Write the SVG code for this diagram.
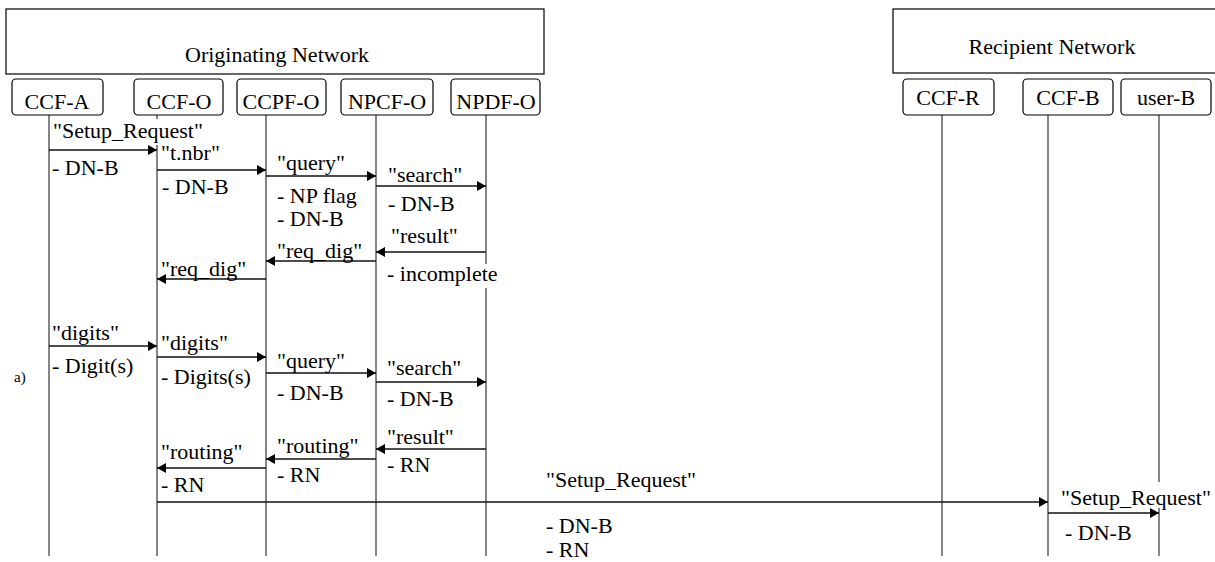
<svg xmlns="http://www.w3.org/2000/svg" width="1215" height="562" viewBox="0 0 1215 562" font-family="'Liberation Serif', 'Times New Roman', Times, serif">
<style>
  text { font-family: 'Liberation Serif', 'Times New Roman', Times, serif; font-size: 22px; fill: #000; }
  .hdr { text-anchor: middle; }
  .nm { text-anchor: middle; }
  .box { fill: #fff; stroke: #000; stroke-width: 1.2; }
  .life { stroke: #444; stroke-width: 1.3; fill: none; }
  .msg { stroke: #111; stroke-width: 1.4; fill: none; marker-end: url(#ah); }
  .bg { fill: #fff; stroke: none; }
  .small { font-size: 15px; }
</style>
<defs>
  <marker id="ah" viewBox="0 0 9 10" refX="9" refY="5" markerWidth="9" markerHeight="10" markerUnits="userSpaceOnUse" orient="auto">
    <path d="M0,0 L9,5 L0,10 z" fill="#000"/>
  </marker>
</defs>
<rect width="1215" height="562" fill="#fff"/>

<g id="originating-network">
  <rect class="box" x="6" y="9" width="538" height="65"/>
  <text class="hdr" x="277" y="62">Originating Network</text>
</g>
<g id="recipient-network">
  <rect class="box" x="893" y="9" width="330" height="64"/>
  <text class="hdr" x="1052" y="54">Recipient Network</text>
</g>

<g id="lifelines">
  <line class="life" x1="49" y1="115" x2="49" y2="556"/>
  <line class="life" x1="157" y1="115" x2="157" y2="556"/>
  <line class="life" x1="266" y1="115" x2="266" y2="556"/>
  <line class="life" x1="376" y1="115" x2="376" y2="556"/>
  <line class="life" x1="486" y1="115" x2="486" y2="556"/>
  <line class="life" x1="942" y1="115" x2="942" y2="556"/>
  <line class="life" x1="1048" y1="115" x2="1048" y2="556"/>
  <line class="life" x1="1159" y1="115" x2="1159" y2="556"/>
</g>

<g id="node-ccf-a">
  <rect class="box" x="12" y="79" width="91" height="36" rx="4"/>
  <text class="nm" x="57" y="109">CCF-A</text>
</g>
<g id="node-ccf-o">
  <rect class="box" x="134" y="79" width="89" height="36" rx="4"/>
  <text class="nm" x="179" y="109">CCF-O</text>
</g>
<g id="node-ccpf-o">
  <rect class="box" x="237" y="79" width="89" height="36" rx="4"/>
  <text class="nm" x="281" y="109">CCPF-O</text>
</g>
<g id="node-npcf-o">
  <rect class="box" x="341" y="79" width="92" height="36" rx="4"/>
  <text class="nm" x="387" y="109">NPCF-O</text>
</g>
<g id="node-npdf-o">
  <rect class="box" x="451" y="79" width="89" height="36" rx="4"/>
  <text class="nm" x="496" y="109">NPDF-O</text>
</g>
<g id="node-ccf-r">
  <rect class="box" x="903" y="79" width="91" height="36" rx="4"/>
  <text class="nm" x="948" y="105">CCF-R</text>
</g>
<g id="node-ccf-b">
  <rect class="box" x="1023" y="79" width="90" height="36" rx="4"/>
  <text class="nm" x="1068" y="105">CCF-B</text>
</g>
<g id="node-user-b">
  <rect class="box" x="1121" y="79" width="90" height="36" rx="4"/>
  <text class="nm" x="1166" y="105">user-B</text>
</g>

<g id="connectors">
  <line class="msg" x1="49" y1="150" x2="157" y2="150"/>
  <line class="msg" x1="157" y1="170" x2="266" y2="170"/>
  <line class="msg" x1="266" y1="176" x2="376" y2="176"/>
  <line class="msg" x1="376" y1="186" x2="486" y2="186"/>
  <line class="msg" x1="486" y1="252" x2="376" y2="252"/>
  <line class="msg" x1="376" y1="261" x2="266" y2="261"/>
  <line class="msg" x1="266" y1="279" x2="157" y2="279"/>
  <line class="msg" x1="49" y1="346" x2="157" y2="346"/>
  <line class="msg" x1="157" y1="357" x2="266" y2="357"/>
  <line class="msg" x1="266" y1="373" x2="376" y2="373"/>
  <line class="msg" x1="376" y1="382" x2="486" y2="382"/>
  <line class="msg" x1="486" y1="449" x2="376" y2="449"/>
  <line class="msg" x1="376" y1="459" x2="266" y2="459"/>
  <line class="msg" x1="266" y1="468" x2="157" y2="468"/>
  <line class="msg" x1="157" y1="502" x2="1048" y2="502"/>
  <line class="msg" x1="1048" y1="513" x2="1159" y2="513"/>
</g>

<g id="labels">
  <rect class="bg" x="52" y="119" width="156" height="26"/>
  <text x="53" y="138">"Setup_Request"</text>
  <text x="52" y="175">- DN-B</text>
  <text x="161" y="160">"t.nbr"</text>
  <text x="162" y="194">- DN-B</text>
  <text x="277" y="170">"query"</text>
  <text x="277" y="203">- NP flag</text>
  <text x="277" y="226">- DN-B</text>
  <text x="388" y="182">"search"</text>
  <text x="388" y="211">- DN-B</text>
  <text x="391" y="243">"result"</text>
  <rect class="bg" x="386" y="264" width="112" height="24"/>
  <text x="387" y="281">- incomplete</text>
  <text x="277" y="258">"req_dig"</text>
  <text x="161" y="276">"req_dig"</text>
  <text x="52" y="340">"digits"</text>
  <text x="52" y="373">- Digit(s)</text>
  <text x="161" y="350">"digits"</text>
  <text x="161" y="384">- Digits(s)</text>
  <text x="277" y="368">"query"</text>
  <text x="277" y="400">- DN-B</text>
  <text x="387" y="375">"search"</text>
  <text x="387" y="406">- DN-B</text>
  <text class="small" x="14" y="382">a)</text>
  <text x="387" y="444">"result"</text>
  <text x="387" y="472">- RN</text>
  <text x="277" y="453">"routing"</text>
  <text x="277" y="482">- RN</text>
  <text x="161" y="459">"routing"</text>
  <text x="161" y="492">- RN</text>
  <text x="546" y="487">"Setup_Request"</text>
  <text x="546" y="533">- DN-B</text>
  <text x="546" y="557">- RN</text>
  <rect class="bg" x="1058" y="482" width="152" height="26"/>
  <text x="1061" y="505">"Setup_Request"</text>
  <text x="1065" y="540">- DN-B</text>
</g>
</svg>
